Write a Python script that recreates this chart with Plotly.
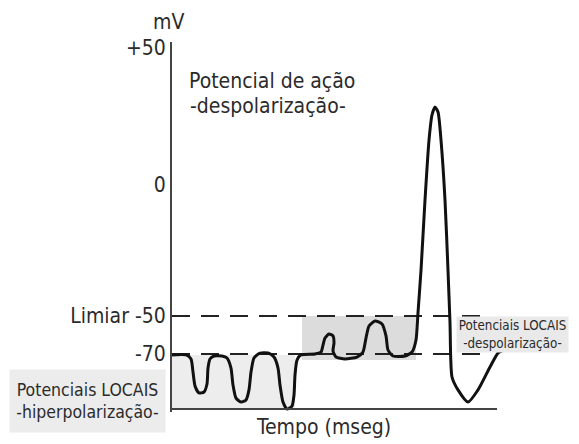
import plotly.graph_objects as go

# Membrane potential trace (time in ms, potential in schematic mV units)
time_ms = [0, 0.431, 0.585, 0.646, 0.708, 0.831, 0.985, 1.077, 1.108, 1.169, 1.292, 1.538, 1.692,
           1.815, 1.877, 1.969, 2.123, 2.277, 2.369, 2.431, 2.523, 2.708, 2.954, 3.138, 3.262,
           3.323, 3.415, 3.538, 3.692, 3.754, 3.785, 3.846, 3.969,
           4.4, 4.585, 4.646, 4.708, 4.831, 4.954, 4.985, 4.954, 5.046, 5.323, 5.692, 5.877,
           5.969, 6.062, 6.246, 6.462, 6.585, 6.646, 6.8, 7.169, 7.385, 7.508,
           7.569, 7.662, 7.785, 7.908, 8.0, 8.092, 8.185, 8.277, 8.4, 8.492, 8.554, 8.615, 8.8,
           9.108, 9.415, 9.785, 10.03, 10.154]
potential = [-70.5, -70.5, -72.6, -79.5, -86.8, -90.5, -90.0, -85.8, -77.4, -72.6, -71.05, -71.05,
             -72.1, -77.4, -86.3, -93.2, -95.3, -94.2, -88.9, -79.5, -72.1, -69.5, -69.5, -71.6,
             -77.4, -86.3, -95.3, -98.95, -97.4, -91.6, -81.05, -73.2, -70.5,
             -70.0, -68.95, -65.3, -61.6, -59.5, -60.5, -64.2, -68.4, -71.6, -72.6, -71.6, -68.95,
             -61.6, -55.3, -52.6, -54.2, -60.5, -67.9, -71.05, -71.05, -68.95, -62.6,
             -48.4, -25.8, 11.05, 42.6, 55.8, 60.0, 57.4, 42.6, 11.05, -25.8, -53.7, -82.1, -88.9,
             -95.3, -88.9, -76.8, -69.5, -68.4]

tick_vals = [91.05, 18.95, -50, -70]
tick_text = ["+50", "0", "Limiar -50", "-70"]

threshold_mv = -50
resting_mv = -70
baseline_mv = -98.95
time_end = 10.0

hyper_region_t = [0.0, 3.785]
hyper_region_v = [-98.95, -70.5]
depol_region_t = [4.0, 7.508]
depol_region_v = [-73.2, -50.0]

FONT = "DejaVu Sans Condensed, Liberation Sans Narrow, Arial Narrow, sans-serif"
TXT = "#2b2b2b"

fig = go.Figure()
fig.add_trace(go.Scatter(x=time_ms, y=potential, mode="lines",
                         line=dict(color="#111111", width=3, shape="spline", smoothing=0.6),
                         hoverinfo="skip", showlegend=False))

shapes = [
    dict(type="rect", xref="x", yref="y", x0=hyper_region_t[0], x1=hyper_region_t[1],
         y0=hyper_region_v[0], y1=hyper_region_v[1], fillcolor="#ededed", line_width=0, layer="below"),
    dict(type="rect", xref="x", yref="y", x0=depol_region_t[0], x1=depol_region_t[1],
         y0=depol_region_v[0], y1=depol_region_v[1], fillcolor="#dcdcdc", line_width=0, layer="below"),
    dict(type="line", xref="x", yref="y", x0=0, x1=9.785, y0=threshold_mv, y1=threshold_mv,
         line=dict(color="#222222", width=2, dash="18px,11px"), layer="below"),
    dict(type="line", xref="x", yref="y", x0=0, x1=9.72, y0=resting_mv, y1=resting_mv,
         line=dict(color="#222222", width=2, dash="18px,11px"), layer="below"),
    dict(type="line", xref="x", yref="y", x0=0, x1=time_end, y0=baseline_mv, y1=baseline_mv,
         line=dict(color="#444444", width=2)),
]

W, H = 579, 444
L, R, T, B = 172, 74, 42, 32
pw, ph = W - L - R, H - T - B


def px(x):
    return (x - L) / pw


def py(y):
    return (H - B - y) / ph


annotations = [
    dict(text="mV", x=px(168), y=py(22), font=dict(size=21)),
    dict(text="Potencial de ação", x=px(272), y=py(81), font=dict(size=21)),
    dict(text="-despolarização-", x=px(268), y=py(106), font=dict(size=21)),
    dict(text="Tempo (mseg)", x=px(323), y=py(427), font=dict(size=21)),
    dict(text="Potenciais LOCAIS<br>-hiperpolarização-", x=px(87.5), y=py(401),
         font=dict(size=17.5), bgcolor="#ececec", width=155, height=62, borderpad=0),
    dict(text="Potenciais LOCAIS<br>-despolarização-", x=px(512.5), y=py(334.5),
         font=dict(size=13.3), bgcolor="#e9e9e9", width=111, height=35, borderpad=0),
]
for a in annotations:
    a.update(xref="paper", yref="paper", showarrow=False, xanchor="center", yanchor="middle")
    a["font"].update(family=FONT, color=TXT)

fig.update_layout(
    width=W, height=H, margin=dict(l=L, r=R, t=T, b=B),
    paper_bgcolor="white", plot_bgcolor="white",
    shapes=shapes, annotations=annotations, showlegend=False,
    xaxis=dict(range=[0, pw / 32.5], showgrid=False, zeroline=False, showline=False,
               showticklabels=False, ticks=""),
    yaxis=dict(range=[-70 - (H - B - 354) / 1.9, -70 + (354 - T) / 1.9], showgrid=False,
               zeroline=False, showline=True, linecolor="#444444", linewidth=2,
               tickvals=tick_vals, ticktext=tick_text, ticks="",
               tickfont=dict(family=FONT, size=21, color=TXT)),
)

fig.write_html("out.html", config={"displayModeBar": False},
               post_script="document.body.style.margin='0';")
